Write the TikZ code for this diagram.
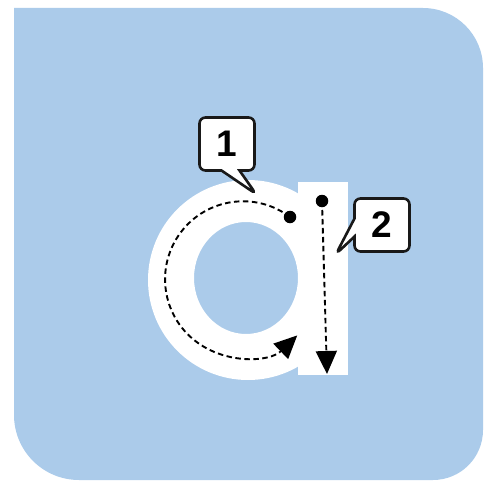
\documentclass[tikz,border=0pt]{standalone}
\usepackage{fontspec}
\setmainfont{Liberation Sans}
\usepackage{xcolor}
\usepackage{tikz}
\usetikzlibrary{arrows.meta, shapes.callouts}

\definecolor{tileblue}{RGB}{171,203,234}
\definecolor{inkdark}{RGB}{25,25,25}

\begin{document}
\begin{tikzpicture}[
    x=1pt, y=-1pt,
    bubble/.style={rectangle callout, rounded corners=6pt, draw=inkdark, line width=2.6pt, fill=white, minimum width=55pt, minimum height=53pt, inner sep=0pt, font=\bfseries\fontsize{37}{37}\selectfont, callout pointer width=18pt},
    dot/.style={circle, fill=black, inner sep=0pt, minimum size=12.5pt},
    guide/.style={draw=black, line width=1.9pt, dash pattern=on 5.5pt off 3.5pt, -{Triangle[length=23pt, width=21pt]}}
]
\useasboundingbox (0,0) rectangle (484,487);

% tile
\fill[tileblue] (14,8) -- (423,8) arc[start angle=-90, end angle=0, radius=60] -- (483,430) arc[start angle=0, end angle=90, radius=50] -- (79,480) arc[start angle=90, end angle=180, radius=65] -- cycle;

% letter a
\fill[white, even odd rule] (248,280) ellipse[x radius=100, y radius=100] (246,278) ellipse[x radius=52, y radius=56];
\fill[white] (298,182) rectangle (348,375);

% callouts
\node[bubble, callout absolute pointer={(256,194)}] (one) at (227,144) {1};
\node[bubble, callout absolute pointer={(336,254)}] (two) at (382,225) {2};

% strokes
\node[dot] (dotone) at (290,217) {};
\node[dot] (dottwo) at (322,201) {};
\coordinate (stemend) at (327,374);

\draw[guide] (dotone.center) arc[start angle=-53, end angle=-314, radius=78];
\draw[guide] (dottwo.center) -- (stemend);

\end{tikzpicture}
\end{document}
